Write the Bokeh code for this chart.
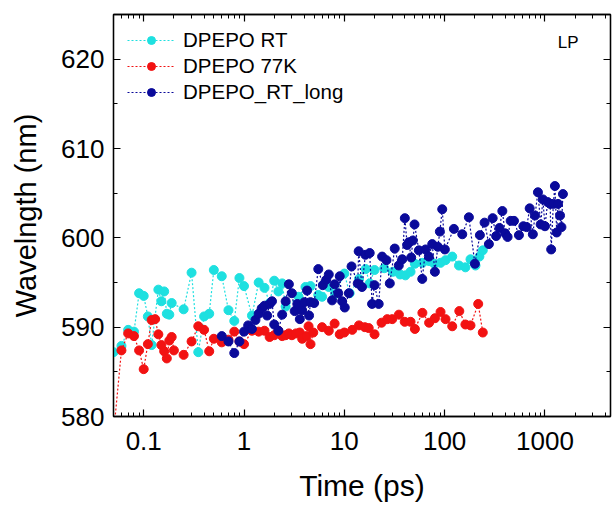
from bokeh.plotting import figure
from bokeh.models import (LogAxis, LinearAxis, FixedTicker, Legend, LegendItem,
                          Label, Range1d, CustomJSTickFormatter, CustomLabelingPolicy)
from bokeh.embed import file_html
from bokeh.resources import INLINE

# ---------------- data ----------------
cyan_t = [0.05, 0.06, 0.07, 0.08, 0.09, 0.10, 0.11, 0.12, 0.14, 0.15, 0.16, 0.17, 0.18, 0.19,
          0.25, 0.3, 0.35, 0.4, 0.45, 0.5, 0.6, 0.7, 0.8, 0.9, 1.0, 1.2, 1.4, 1.6, 1.8, 2.0,
          2.2, 2.4, 2.6, 3.5, 4.1, 4.6, 5.5, 6.0, 7.0, 8.1, 10, 11.3, 14, 16.3, 17.9, 20,
          25, 30.5, 36, 40.6, 45.7, 50.5, 60, 70, 79, 91, 102, 119, 139, 161, 181, 203, 222, 240]
cyan_w = [587.2, 587.9, 589.7, 589.5, 593.8, 593.5, 591.2, 588.0, 594.2, 592.9, 594.0, 591.5, 591.4, 592.7,
          592.0, 596.1, 587.2, 591.2, 591.5, 596.4, 595.7, 591.9, 590.7, 595.5, 594.6, 591.3, 595.0, 594.4, 592.7, 595.2,
          594.0, 594.9, 592.3, 593.4, 594.5, 594.6, 593.6, 593.4, 594.5, 593.7, 596.0, 593.8, 595.4, 596.5, 594.9, 596.4,
          596.6, 596.2, 595.9, 595.8, 596.2, 597.1, 597.2, 597.4, 597.1, 597.2, 597.5, 597.9, 596.9, 596.7, 597.6, 596.9, 597.9, 598.6]

red_t = [0.05, 0.06, 0.07, 0.08, 0.09, 0.10, 0.11, 0.12, 0.13, 0.14, 0.15, 0.16, 0.17, 0.18, 0.19, 0.20,
         0.25, 0.3, 0.35, 0.4, 0.45, 0.5, 0.6, 0.7, 0.8, 0.9, 1.0, 1.2, 1.4, 1.6, 1.8, 2.0, 2.2, 2.4, 2.6, 2.8, 3.0,
         3.3, 3.6, 3.8, 4.2, 4.4, 4.6, 4.9, 6.0, 7.0, 8.0, 9.0, 10, 12, 14, 16, 17.5, 20,
         23.5, 26.8, 30, 35, 40, 45.7, 50.5, 60, 70, 80, 91, 102, 119, 140, 161, 181, 216, 240]
red_w = [578.0, 587.4, 589.3, 589.0, 587.4, 585.3, 588.1, 590.8, 590.9, 589.2, 588.0, 587.3, 586.5, 588.5, 588.9, 587.4,
         586.9, 588.4, 590.1, 589.7, 587.3, 588.7, 588.3, 588.6, 589.5, 588.4, 588.1, 589.6, 589.5, 589.6, 588.9, 589.1,
         589.6, 589.0, 589.1, 589.3, 589.1, 589.3, 589.4, 588.7, 589.0, 590.1, 588.1, 589.4, 590.0, 589.6, 590.4, 589.2,
         589.4, 589.7, 590.2, 590.0, 589.9, 589.2, 590.5, 590.9, 590.9, 591.4, 590.6, 590.6, 589.8, 591.6, 590.5, 591.0,
         591.7, 590.9, 590.1, 591.8, 590.3, 590.2, 592.6, 589.4]

navy_t = [0.6, 0.7, 0.8, 0.9, 1.0, 1.1, 1.2, 1.3, 1.4, 1.5, 1.6, 1.7, 1.8, 1.9, 2.0, 2.2, 2.4, 2.6, 2.8, 3.0,
          3.2, 3.4, 3.6, 3.8, 4.0, 4.25, 4.45, 4.6, 5.0, 5.5, 6.1, 6.6, 7.0, 7.55, 8.0, 8.7, 9.0, 9.5, 10.1, 11.1,
          11.8, 13.6, 13.9, 15.0, 16.2, 17.9, 18.9, 20.0, 22.0, 23.8, 26.3, 28.4, 31.8, 34.9, 37.8, 40.1, 42.3, 43.9,
          46.4, 48.2, 50.1, 55.3, 59.8, 64.5, 69.6, 75.2, 79.9, 85.5, 89.6, 94.6, 100.5, 123.6, 149.8, 174.4, 200.2,
          224.5, 250, 276, 301, 326, 352, 376, 401, 424, 455, 491, 550, 609, 657, 704, 757, 795, 851, 906, 953, 1000,
          1064, 1127, 1153, 1213, 1256, 1309, 1349, 1413, 1459, 1510]
navy_w = [589.0, 588.4, 587.1, 588.4, 589.5, 590.2, 589.8, 590.8, 591.5, 592.1, 592.4, 591.3, 592.6, 592.9, 590.3,
          589.6, 591.4, 592.9, 594.8, 593.8, 591.8, 592.6, 590.9, 591.9, 592.8, 594.1, 591.3, 592.8, 592.7, 596.5,
          594.7, 595.3, 595.9, 593.0, 594.8, 593.8, 595.7, 592.9, 592.2, 593.8, 596.8, 594.9, 598.5, 594.5, 598.1,
          598.3, 592.6, 594.7, 592.6, 597.9, 597.5, 594.9, 598.8, 596.9, 597.6, 602.2, 599.2, 599.5, 597.8, 599.7,
          601.5, 598.6, 595.4, 598.7, 597.9, 599.3, 596.2, 599.0, 600.7, 603.2, 598.7, 601.0, 600.4, 602.3, 597.1,
          600.3, 601.7, 599.3, 602.2, 600.2, 601.1, 603.0, 600.5, 600.1, 601.9, 601.9, 600.3, 601.3, 601.2, 603.3,
          600.4, 602.5, 605.1, 601.5, 604.3, 601.3, 604.0, 603.8, 598.7, 603.8, 605.8, 600.6, 603.8, 602.5, 601.2, 604.9]

series_names = ["DPEPO RT", "DPEPO 77K", "DPEPO_RT_long"]
x_major = [0.1, 1, 10, 100, 1000]
y_major = [580, 590, 600, 610, 620]

# ---------------- styling ----------------
FONT = "Liberation Sans"
colors = ["#1EE0E0", "#F21212", "#0A0A9A"]

x_minor = [m * 10.0 ** e for e in range(-2, 4) for m in range(2, 10)]
x_minor = [v for v in x_minor if 0.05 <= v <= 4500]
y_minor = [585, 595, 605, 615, 625]

p = figure(x_axis_type="log", x_range=Range1d(0.05, 4500), y_range=Range1d(580, 625),
           frame_width=497, frame_height=402, output_backend="svg", toolbar_location=None,
           min_border_left=113, min_border_top=14, min_border_right=2, min_border_bottom=10,
           background_fill_color="white", border_fill_color="white")
p.xgrid.visible = False
p.ygrid.visible = False
p.outline_line_color = "black"
p.outline_line_width = 1.3

bottom = p.below[0]
left = p.left[0]

xt = FixedTicker(ticks=x_major, minor_ticks=x_minor)
yt = FixedTicker(ticks=y_major, minor_ticks=y_minor)

no_labels = CustomLabelingPolicy(code="for (const i of Array.from(indices)) { indices.unset(i) }\nreturn indices")
top = LogAxis(ticker=xt, major_label_policy=no_labels)
right = LinearAxis(ticker=yt, major_label_policy=no_labels)
p.add_layout(top, "above")
p.add_layout(right, "right")

bottom.ticker = xt
bottom.formatter = CustomJSTickFormatter(code="return tick.toString()")
left.ticker = yt

for ax in [bottom, left, top, right]:
    ax.major_tick_in = 7
    ax.major_tick_out = 0
    ax.minor_tick_in = 4
    ax.minor_tick_out = 0
    ax.axis_line_width = 1.3
    ax.major_tick_line_width = 1.2
    ax.minor_tick_line_width = 1.0
    ax.major_label_text_font = FONT
    ax.major_label_text_font_size = "26px"
    ax.major_label_text_color = "black"
    ax.axis_label_text_font = FONT
    ax.axis_label_text_font_style = "normal"
    ax.axis_label_text_color = "black"
for ax in [top, right]:
    ax.major_label_standoff = 0
    ax.major_label_text_font_size = "1px"

bottom.axis_label = "Time (ps)"
bottom.axis_label_text_font_size = "30px"
bottom.major_label_standoff = 15
bottom.axis_label_standoff = 16
left.axis_label = "Wavelngth (nm)"
left.axis_label_text_font_size = "29px"
left.major_label_standoff = 9
left.axis_label_standoff = 16

items = []
for name, t, w, c in zip(series_names, [cyan_t, red_t, navy_t], [cyan_w, red_w, navy_w], colors):
    ln = p.line(t, w, line_color=c, line_width=1.2, line_dash="2 2")
    sc = p.scatter(t, w, size=9, fill_color=c, line_color=c, marker="circle")
    items.append(LegendItem(label=name, renderers=[ln, sc]))

legend = Legend(items=items, location="top_left", label_text_font=FONT, label_text_font_size="20.5px",
                label_text_color="black",
                glyph_width=48, glyph_height=20, label_height=20, spacing=2, padding=11, margin=14,
                label_standoff=8, border_line_color=None, background_fill_alpha=0)
p.add_layout(legend)

p.add_layout(Label(x=1340, y=621.9, text="LP", text_font=FONT, text_font_size="17px",
                   text_color="black", text_baseline="middle", text_align="left"))

open("out.html", "w").write(file_html(p, INLINE))
